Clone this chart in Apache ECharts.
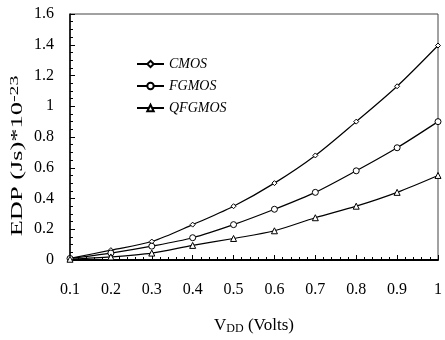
<!DOCTYPE html>
<html>
<head>
<meta charset="utf-8">
<script src="https://cdn.jsdelivr.net/npm/echarts@6/dist/echarts.min.js"></script>
<style>
  html, body { margin: 0; padding: 0; background: #fff; }
  #chart { width: 445px; height: 340px; }
</style>
</head>
<body>
<div id="chart"></div>
<script>
// supply voltage (V)
const vdd = [0.1, 0.2, 0.3, 0.4, 0.5, 0.6, 0.7, 0.8, 0.9, 1.0];
// EDP values, units of 1e-23 Js
const cmos   = [0.01, 0.064, 0.12, 0.23, 0.35, 0.50, 0.68, 0.90, 1.13, 1.395];
const fgmos  = [0.01, 0.045, 0.09, 0.145, 0.23, 0.33, 0.44, 0.58, 0.73, 0.90];
const qfgmos = [0.005, 0.02, 0.045, 0.095, 0.14, 0.19, 0.275, 0.35, 0.44, 0.55];

const names = ['CMOS', 'FGMOS', 'QFGMOS'];
const symbols = ['diamond', 'circle', 'triangle'];
const sizes = [5, 6, 6];

const font = 'Liberation Serif';
const chart = echarts.init(document.getElementById('chart'));

function mk(i, vals) {
  return {
    name: names[i],
    type: 'line',
    smooth: 0.3,
    data: vdd.map((v, k) => [v, vals[k]]),
    symbol: symbols[i],
    symbolSize: sizes[i],
    showAllSymbol: true,
    lineStyle: { color: '#000', width: 1.2 },
    itemStyle: { color: '#fff', borderColor: '#000', borderWidth: 1 },
    emphasis: { disabled: true },
    z: 3
  };
}

const option = {
  animation: false,
  textStyle: { fontFamily: font },
  grid: { left: 70, right: 2, top: 14, bottom: 76, show: true, borderColor: '#444', borderWidth: 1 },
  legend: {
    orient: 'vertical',
    left: 131,
    top: 52,
    itemWidth: 27,
    itemHeight: 8,
    itemGap: 8,
    textStyle: { fontFamily: font, fontStyle: 'italic', fontSize: 14, color: '#000' },
    data: names
  },
  // y axis title, stretched along its length like the source figure
  graphic: [{
    type: 'text',
    x: 18,
    y: 156,
    rotation: Math.PI / 2,
    scaleX: 1.65,
    style: {
      text: '{n|EDP (Js)*10}{s|-23}',
      align: 'center',
      verticalAlign: 'middle',
      rich: {
        n: { fontFamily: font, fontSize: 16, fill: '#000' },
        s: { fontFamily: font, fontSize: 12, fill: '#000', verticalAlign: 'top', padding: [0, 0, 6, 0] }
      }
    }
  }],
  xAxis: {
    type: 'value',
    min: 0.1,
    max: 1,
    interval: 0.1,
    axisLine: { lineStyle: { color: '#000', width: 2 } },
    axisTick: { inside: true, length: 5, lineStyle: { color: '#000' } },
    minorTick: { show: true, splitNumber: 5, length: 3, lineStyle: { color: '#000' } },
    splitLine: { show: false },
    axisLabel: { color: '#000', fontSize: 16, margin: 22, formatter: v => String(Math.round(v * 10) / 10) },
    name: '{n|V}{s|DD}{n| (Volts)}',
    nameLocation: 'middle',
    nameGap: 56,
    nameTextStyle: {
      rich: {
        n: { fontFamily: font, fontSize: 17, color: '#000' },
        s: { fontFamily: font, fontSize: 12, color: '#000', verticalAlign: 'bottom', padding: [7, 0, 0, 0] }
      }
    }
  },
  yAxis: {
    type: 'value',
    min: 0,
    max: 1.6,
    interval: 0.2,
    axisLine: { show: true, lineStyle: { color: '#000', width: 1.5 } },
    axisTick: { inside: true, length: 5, lineStyle: { color: '#000' } },
    minorTick: { show: true, splitNumber: 4, length: 3, lineStyle: { color: '#000' } },
    splitLine: { show: false },
    axisLabel: { color: '#000', fontSize: 16, margin: 16, formatter: v => String(Math.round(v * 10) / 10) }
  },
  series: [mk(0, cmos), mk(1, fgmos), mk(2, qfgmos)]
};

chart.setOption(option);
</script>
</body>
</html>
